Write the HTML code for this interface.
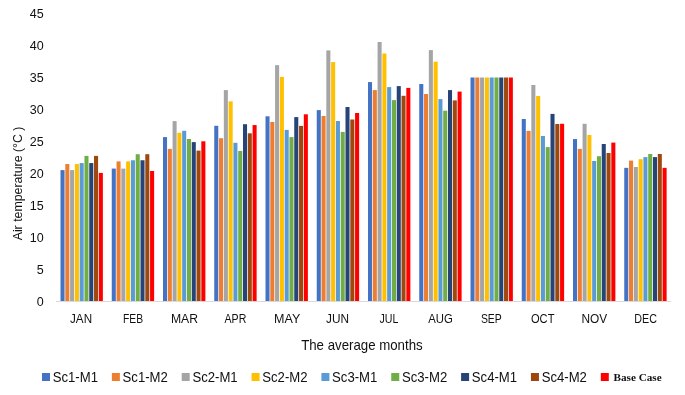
<!DOCTYPE html>
<html><head><meta charset="utf-8"><style>
html,body{margin:0;padding:0;background:#fff;}
body{width:685px;height:395px;overflow:hidden;}
svg{display:block;will-change:transform;}
.t{font-family:"Liberation Sans",sans-serif;font-size:12.5px;fill:#111;}
.b{font-family:"Liberation Serif",serif;font-weight:bold;font-size:11px;fill:#111;}
</style></head><body>
<svg width="685" height="395" viewBox="0 0 685 395">
<rect width="685" height="395" fill="#fff"/>
<rect x="60.50" y="170.10" width="4.05" height="130.90" fill="#4472C4"/>
<rect x="65.29" y="164.05" width="4.05" height="136.95" fill="#ED7D31"/>
<rect x="70.08" y="170.10" width="4.05" height="130.90" fill="#A5A5A5"/>
<rect x="74.87" y="164.05" width="4.05" height="136.95" fill="#FFC000"/>
<rect x="79.66" y="163.06" width="4.05" height="137.94" fill="#5B9BD5"/>
<rect x="84.45" y="155.90" width="4.05" height="145.10" fill="#70AD47"/>
<rect x="89.24" y="163.06" width="4.05" height="137.94" fill="#264478"/>
<rect x="94.03" y="155.90" width="4.05" height="145.10" fill="#9E480E"/>
<rect x="98.82" y="172.90" width="4.05" height="128.10" fill="#FF0000"/>
<rect x="111.75" y="168.60" width="4.05" height="132.40" fill="#4472C4"/>
<rect x="116.54" y="161.40" width="4.05" height="139.60" fill="#ED7D31"/>
<rect x="121.33" y="168.60" width="4.05" height="132.40" fill="#A5A5A5"/>
<rect x="126.12" y="161.40" width="4.05" height="139.60" fill="#FFC000"/>
<rect x="130.91" y="160.25" width="4.05" height="140.75" fill="#5B9BD5"/>
<rect x="135.70" y="154.20" width="4.05" height="146.80" fill="#70AD47"/>
<rect x="140.49" y="160.25" width="4.05" height="140.75" fill="#264478"/>
<rect x="145.28" y="154.20" width="4.05" height="146.80" fill="#9E480E"/>
<rect x="150.07" y="171.00" width="4.05" height="130.00" fill="#FF0000"/>
<rect x="163.00" y="137.10" width="4.05" height="163.90" fill="#4472C4"/>
<rect x="167.79" y="148.90" width="4.05" height="152.10" fill="#ED7D31"/>
<rect x="172.58" y="121.10" width="4.05" height="179.90" fill="#A5A5A5"/>
<rect x="177.37" y="132.80" width="4.05" height="168.20" fill="#FFC000"/>
<rect x="182.16" y="130.80" width="4.05" height="170.20" fill="#5B9BD5"/>
<rect x="186.95" y="139.00" width="4.05" height="162.00" fill="#70AD47"/>
<rect x="191.74" y="142.10" width="4.05" height="158.90" fill="#264478"/>
<rect x="196.53" y="150.60" width="4.05" height="150.40" fill="#9E480E"/>
<rect x="201.32" y="141.30" width="4.05" height="159.70" fill="#FF0000"/>
<rect x="214.25" y="125.80" width="4.05" height="175.20" fill="#4472C4"/>
<rect x="219.04" y="138.20" width="4.05" height="162.80" fill="#ED7D31"/>
<rect x="223.83" y="90.10" width="4.05" height="210.90" fill="#A5A5A5"/>
<rect x="228.62" y="101.30" width="4.05" height="199.70" fill="#FFC000"/>
<rect x="233.41" y="142.80" width="4.05" height="158.20" fill="#5B9BD5"/>
<rect x="238.20" y="151.00" width="4.05" height="150.00" fill="#70AD47"/>
<rect x="242.99" y="124.20" width="4.05" height="176.80" fill="#264478"/>
<rect x="247.78" y="133.30" width="4.05" height="167.70" fill="#9E480E"/>
<rect x="252.57" y="125.05" width="4.05" height="175.95" fill="#FF0000"/>
<rect x="265.50" y="116.30" width="4.05" height="184.70" fill="#4472C4"/>
<rect x="270.29" y="121.95" width="4.05" height="179.05" fill="#ED7D31"/>
<rect x="275.08" y="65.15" width="4.05" height="235.85" fill="#A5A5A5"/>
<rect x="279.87" y="76.90" width="4.05" height="224.10" fill="#FFC000"/>
<rect x="284.66" y="129.90" width="4.05" height="171.10" fill="#5B9BD5"/>
<rect x="289.45" y="137.10" width="4.05" height="163.90" fill="#70AD47"/>
<rect x="294.24" y="117.10" width="4.05" height="183.90" fill="#264478"/>
<rect x="299.03" y="125.90" width="4.05" height="175.10" fill="#9E480E"/>
<rect x="303.82" y="114.30" width="4.05" height="186.70" fill="#FF0000"/>
<rect x="316.75" y="110.10" width="4.05" height="190.90" fill="#4472C4"/>
<rect x="321.54" y="116.00" width="4.05" height="185.00" fill="#ED7D31"/>
<rect x="326.33" y="50.40" width="4.05" height="250.60" fill="#A5A5A5"/>
<rect x="331.12" y="62.10" width="4.05" height="238.90" fill="#FFC000"/>
<rect x="335.91" y="121.00" width="4.05" height="180.00" fill="#5B9BD5"/>
<rect x="340.70" y="131.90" width="4.05" height="169.10" fill="#70AD47"/>
<rect x="345.49" y="107.00" width="4.05" height="194.00" fill="#264478"/>
<rect x="350.28" y="119.50" width="4.05" height="181.50" fill="#9E480E"/>
<rect x="355.07" y="113.00" width="4.05" height="188.00" fill="#FF0000"/>
<rect x="368.00" y="82.10" width="4.05" height="218.90" fill="#4472C4"/>
<rect x="372.79" y="90.10" width="4.05" height="210.90" fill="#ED7D31"/>
<rect x="377.58" y="42.00" width="4.05" height="259.00" fill="#A5A5A5"/>
<rect x="382.37" y="53.50" width="4.05" height="247.50" fill="#FFC000"/>
<rect x="387.16" y="87.10" width="4.05" height="213.90" fill="#5B9BD5"/>
<rect x="391.95" y="100.10" width="4.05" height="200.90" fill="#70AD47"/>
<rect x="396.74" y="86.10" width="4.05" height="214.90" fill="#264478"/>
<rect x="401.53" y="95.80" width="4.05" height="205.20" fill="#9E480E"/>
<rect x="406.32" y="87.90" width="4.05" height="213.10" fill="#FF0000"/>
<rect x="419.25" y="84.00" width="4.05" height="217.00" fill="#4472C4"/>
<rect x="424.04" y="94.00" width="4.05" height="207.00" fill="#ED7D31"/>
<rect x="428.83" y="50.10" width="4.05" height="250.90" fill="#A5A5A5"/>
<rect x="433.62" y="61.70" width="4.05" height="239.30" fill="#FFC000"/>
<rect x="438.41" y="99.10" width="4.05" height="201.90" fill="#5B9BD5"/>
<rect x="443.20" y="110.70" width="4.05" height="190.30" fill="#70AD47"/>
<rect x="447.99" y="90.10" width="4.05" height="210.90" fill="#264478"/>
<rect x="452.78" y="100.40" width="4.05" height="200.60" fill="#9E480E"/>
<rect x="457.57" y="91.60" width="4.05" height="209.40" fill="#FF0000"/>
<rect x="470.50" y="77.50" width="4.05" height="223.50" fill="#4472C4"/>
<rect x="475.29" y="77.50" width="4.05" height="223.50" fill="#ED7D31"/>
<rect x="480.08" y="77.50" width="4.05" height="223.50" fill="#A5A5A5"/>
<rect x="484.87" y="77.50" width="4.05" height="223.50" fill="#FFC000"/>
<rect x="489.66" y="77.50" width="4.05" height="223.50" fill="#5B9BD5"/>
<rect x="494.45" y="77.50" width="4.05" height="223.50" fill="#70AD47"/>
<rect x="499.24" y="77.50" width="4.05" height="223.50" fill="#264478"/>
<rect x="504.03" y="77.50" width="4.05" height="223.50" fill="#9E480E"/>
<rect x="508.82" y="77.50" width="4.05" height="223.50" fill="#FF0000"/>
<rect x="521.75" y="119.00" width="4.05" height="182.00" fill="#4472C4"/>
<rect x="526.54" y="130.90" width="4.05" height="170.10" fill="#ED7D31"/>
<rect x="531.33" y="85.00" width="4.05" height="216.00" fill="#A5A5A5"/>
<rect x="536.12" y="96.00" width="4.05" height="205.00" fill="#FFC000"/>
<rect x="540.91" y="136.00" width="4.05" height="165.00" fill="#5B9BD5"/>
<rect x="545.70" y="147.10" width="4.05" height="153.90" fill="#70AD47"/>
<rect x="550.49" y="113.90" width="4.05" height="187.10" fill="#264478"/>
<rect x="555.28" y="124.00" width="4.05" height="177.00" fill="#9E480E"/>
<rect x="560.07" y="123.80" width="4.05" height="177.20" fill="#FF0000"/>
<rect x="573.00" y="139.06" width="4.05" height="161.94" fill="#4472C4"/>
<rect x="577.79" y="148.90" width="4.05" height="152.10" fill="#ED7D31"/>
<rect x="582.58" y="123.80" width="4.05" height="177.20" fill="#A5A5A5"/>
<rect x="587.37" y="135.00" width="4.05" height="166.00" fill="#FFC000"/>
<rect x="592.16" y="161.00" width="4.05" height="140.00" fill="#5B9BD5"/>
<rect x="596.95" y="156.20" width="4.05" height="144.80" fill="#70AD47"/>
<rect x="601.74" y="144.00" width="4.05" height="157.00" fill="#264478"/>
<rect x="606.53" y="153.00" width="4.05" height="148.00" fill="#9E480E"/>
<rect x="611.32" y="142.60" width="4.05" height="158.40" fill="#FF0000"/>
<rect x="624.25" y="167.85" width="4.05" height="133.15" fill="#4472C4"/>
<rect x="629.04" y="160.60" width="4.05" height="140.40" fill="#ED7D31"/>
<rect x="633.83" y="167.00" width="4.05" height="134.00" fill="#A5A5A5"/>
<rect x="638.62" y="159.20" width="4.05" height="141.80" fill="#FFC000"/>
<rect x="643.41" y="157.10" width="4.05" height="143.90" fill="#5B9BD5"/>
<rect x="648.20" y="154.00" width="4.05" height="147.00" fill="#70AD47"/>
<rect x="652.99" y="157.10" width="4.05" height="143.90" fill="#264478"/>
<rect x="657.78" y="154.00" width="4.05" height="147.00" fill="#9E480E"/>
<rect x="662.57" y="167.85" width="4.05" height="133.15" fill="#FF0000"/>
<rect x="56.0" y="301" width="615.0" height="1" fill="#D9D9D9"/>
<text x="43.7" y="305.68" text-anchor="end" class="t">0</text>
<text x="43.7" y="273.74" text-anchor="end" class="t">5</text>
<text x="43.7" y="241.79" text-anchor="end" class="t">10</text>
<text x="43.7" y="209.85" text-anchor="end" class="t">15</text>
<text x="43.7" y="177.91" text-anchor="end" class="t">20</text>
<text x="43.7" y="145.97" text-anchor="end" class="t">25</text>
<text x="43.7" y="114.03" text-anchor="end" class="t">30</text>
<text x="43.7" y="82.09" text-anchor="end" class="t">35</text>
<text x="43.7" y="50.16" text-anchor="end" class="t">40</text>
<text x="43.7" y="18.22" text-anchor="end" class="t">45</text>
<text x="81.05" y="322.7" text-anchor="middle" class="t" textLength="22.02" lengthAdjust="spacingAndGlyphs">JAN</text>
<text x="133.00" y="322.7" text-anchor="middle" class="t" textLength="20.13" lengthAdjust="spacingAndGlyphs">FEB</text>
<text x="184.45" y="322.7" text-anchor="middle" class="t" textLength="27.14" lengthAdjust="spacingAndGlyphs">MAR</text>
<text x="235.40" y="322.7" text-anchor="middle" class="t" textLength="21.75" lengthAdjust="spacingAndGlyphs">APR</text>
<text x="287.15" y="322.7" text-anchor="middle" class="t" textLength="26.19" lengthAdjust="spacingAndGlyphs">MAY</text>
<text x="337.50" y="322.7" text-anchor="middle" class="t" textLength="22.95" lengthAdjust="spacingAndGlyphs">JUN</text>
<text x="388.95" y="322.7" text-anchor="middle" class="t" textLength="18.93" lengthAdjust="spacingAndGlyphs">JUL</text>
<text x="440.45" y="322.7" text-anchor="middle" class="t" textLength="24.59" lengthAdjust="spacingAndGlyphs">AUG</text>
<text x="491.35" y="322.7" text-anchor="middle" class="t" textLength="20.89" lengthAdjust="spacingAndGlyphs">SEP</text>
<text x="542.70" y="322.7" text-anchor="middle" class="t" textLength="23.48" lengthAdjust="spacingAndGlyphs">OCT</text>
<text x="594.35" y="322.7" text-anchor="middle" class="t" textLength="25.71" lengthAdjust="spacingAndGlyphs">NOV</text>
<text x="645.70" y="322.7" text-anchor="middle" class="t" textLength="22.67" lengthAdjust="spacingAndGlyphs">DEC</text>
<text x="361.9" y="350.3" text-anchor="middle" class="t" style="font-size:13.9px" textLength="121.5" lengthAdjust="spacingAndGlyphs">The average months</text>
<text transform="translate(22,183.45) rotate(-90)" text-anchor="middle" class="t" textLength="113.8" lengthAdjust="spacingAndGlyphs">Air temperature (°C )</text>
<rect x="42.00" y="373" width="8" height="8" fill="#4472C4"/>
<text x="52.70" y="381.6" class="t" style="font-size:13.8px" textLength="45.3" lengthAdjust="spacingAndGlyphs">Sc1-M1</text>
<rect x="111.85" y="373" width="8" height="8" fill="#ED7D31"/>
<text x="122.55" y="381.6" class="t" style="font-size:13.8px" textLength="45.3" lengthAdjust="spacingAndGlyphs">Sc1-M2</text>
<rect x="181.70" y="373" width="8" height="8" fill="#A5A5A5"/>
<text x="192.40" y="381.6" class="t" style="font-size:13.8px" textLength="45.3" lengthAdjust="spacingAndGlyphs">Sc2-M1</text>
<rect x="251.55" y="373" width="8" height="8" fill="#FFC000"/>
<text x="262.25" y="381.6" class="t" style="font-size:13.8px" textLength="45.3" lengthAdjust="spacingAndGlyphs">Sc2-M2</text>
<rect x="321.40" y="373" width="8" height="8" fill="#5B9BD5"/>
<text x="332.10" y="381.6" class="t" style="font-size:13.8px" textLength="45.3" lengthAdjust="spacingAndGlyphs">Sc3-M1</text>
<rect x="391.25" y="373" width="8" height="8" fill="#70AD47"/>
<text x="401.95" y="381.6" class="t" style="font-size:13.8px" textLength="45.3" lengthAdjust="spacingAndGlyphs">Sc3-M2</text>
<rect x="461.10" y="373" width="8" height="8" fill="#264478"/>
<text x="471.80" y="381.6" class="t" style="font-size:13.8px" textLength="45.3" lengthAdjust="spacingAndGlyphs">Sc4-M1</text>
<rect x="530.95" y="373" width="8" height="8" fill="#9E480E"/>
<text x="541.65" y="381.6" class="t" style="font-size:13.8px" textLength="45.3" lengthAdjust="spacingAndGlyphs">Sc4-M2</text>
<rect x="600.80" y="373" width="8" height="8" fill="#FF0000"/>
<text x="613.50" y="381.2" class="b" textLength="48.2" lengthAdjust="spacingAndGlyphs">Base Case</text>
</svg>
</body></html>
